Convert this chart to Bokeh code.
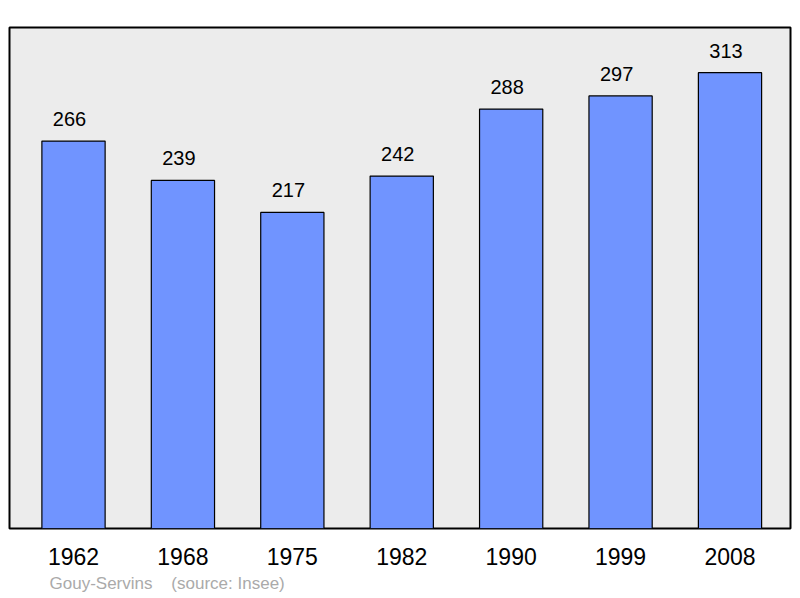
from bokeh.plotting import figure
from bokeh.models import ColumnDataSource, FixedTicker, Range1d, Title
from bokeh.core.properties import value
from bokeh.embed import file_html
from bokeh.resources import INLINE

years = ["1962", "1968", "1975", "1982", "1990", "1999", "2008"]
population = [266, 239, 217, 242, 288, 297, 313]
place = "Gouy-Servins"
source_note = "(source: Insee)"

idx = list(range(len(years)))
src = ColumnDataSource(dict(x=idx, top=population, label=[str(v) for v in population]))

p = figure(width=792, height=596, output_backend="svg", toolbar_location=None,
           x_range=Range1d(-0.585, 6.553), y_range=Range1d(0, 344),
           min_border_left=9, min_border_right=2, min_border_top=27, min_border_bottom=10)
p.background_fill_color = "#ececec"
p.border_fill_color = "white"
p.outline_line_color = "black"
p.outline_line_width = 2
p.grid.visible = False
p.yaxis.visible = False

p.vbar(x="x", top="top", bottom=0, width=0.578, source=src,
       fill_color="#7094ff", line_color="black", line_width=1.2)
p.text(x="x", y="top", text="label", source=src, text_align="center",
       text_baseline="alphabetic", y_offset=-22, x_offset=-4,
       text_font=value("Liberation Sans"),
       text_font_size="20px", text_color="black")

ax = p.xaxis[0]
ax.ticker = FixedTicker(ticks=idx)
ax.major_label_overrides = {i: y for i, y in zip(idx, years)}
ax.axis_line_color = None
ax.major_tick_line_color = None
ax.minor_tick_line_color = None
ax.major_tick_out = 0
ax.major_label_standoff = 19
ax.major_label_text_font = "Liberation Sans"
ax.major_label_text_font_size = "23px"
ax.major_label_text_color = "black"

p.add_layout(Title(text=place + "\u00a0" * 4 + source_note, align="left", offset=40,
                   text_color="#aaaaaa", text_font="Liberation Sans",
                   text_font_size="17px", text_font_style="normal",
                   standoff=8), "below")

open("out.html", "w").write(file_html(p, INLINE))
